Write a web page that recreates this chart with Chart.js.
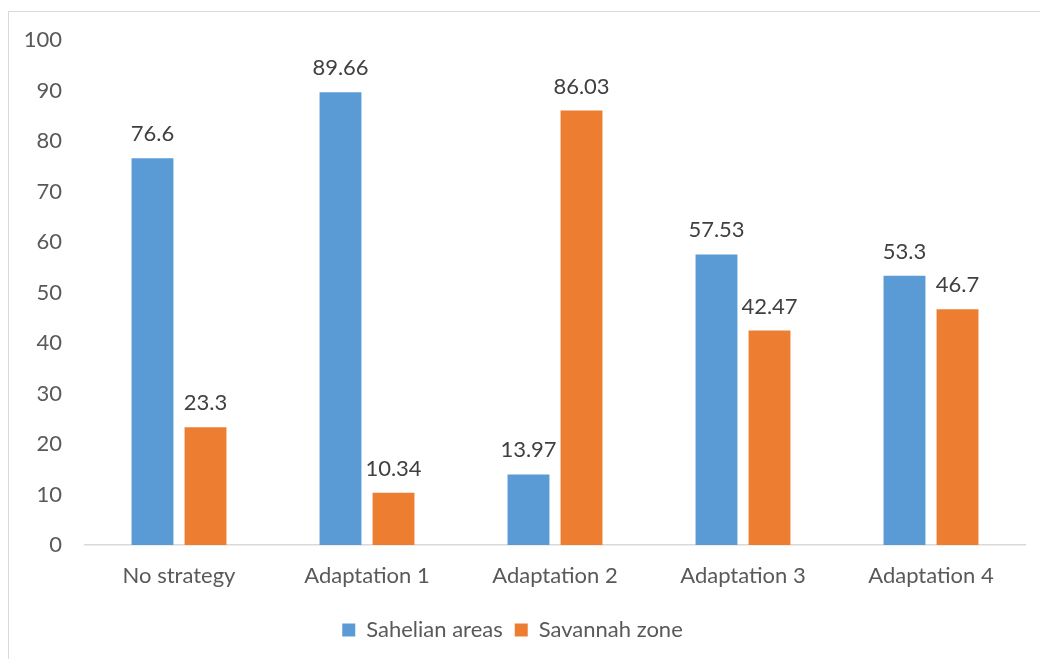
<!DOCTYPE html>
<html><head><meta charset="utf-8">
<script src="https://cdn.jsdelivr.net/npm/chart.js@4.4.1/dist/chart.umd.min.js"></script>
<style>
html,body{margin:0;padding:0;background:#fff;overflow:hidden;}
#frame{position:absolute;left:8px;top:11px;width:1100px;height:700px;border:1px solid #d9d9d9;box-sizing:border-box;}
#wrap{position:absolute;left:0;top:0;width:1040px;height:659px;}
</style></head>
<body>
<div id="frame"></div>
<div id="wrap"><canvas id="c" width="1040" height="659"></canvas></div>
<script>
const categories = ["No strategy", "Adaptation 1", "Adaptation 2", "Adaptation 3", "Adaptation 4"];
const sahelian = [76.6, 89.66, 13.97, 57.53, 53.3];
const savannah = [23.3, 10.34, 86.03, 42.47, 46.7];
const seriesNames = ["Sahelian areas", "Savannah zone"];
const yTicks = [0, 10, 20, 30, 40, 50, 60, 70, 80, 90, 100];

const FONT = "Lato, 'Open Sans', sans-serif";
const labelPlugin = {
  id: 'valueLabels',
  afterDatasetsDraw(chart) {
    const ctx = chart.ctx;
    ctx.save();
    ctx.font = "22px " + FONT;
    ctx.fillStyle = "#404040";
    ctx.textAlign = "center";
    ctx.textBaseline = "alphabetic";
    chart.data.datasets.forEach((ds, i) => {
      chart.getDatasetMeta(i).data.forEach((bar, j) => {
        ctx.fillText(String(ds.data[j]), bar.x, bar.y - 17);
      });
    });
    ctx.restore();
  }
};

new Chart(document.getElementById('c'), {
  type: 'bar',
  data: {
    labels: categories,
    datasets: [
      { label: seriesNames[0], data: sahelian, backgroundColor: '#5B9BD5' },
      { label: seriesNames[1], data: savannah, backgroundColor: '#ED7D31' }
    ]
  },
  options: {
    responsive: false,
    animation: false,
    devicePixelRatio: 1,
    categoryPercentage: 0.564,
    barPercentage: 0.79,
    layout: { padding: { left: 0, right: 15, top: 40, bottom: 8 } },
    plugins: {
      legend: {
        position: 'bottom',
        labels: { boxWidth: 13, boxHeight: 13, padding: 12, color: '#595959', font: { size: 22, family: FONT } }
      },
      tooltip: { enabled: false }
    },
    scales: {
      x: {
        grid: { display: false, drawTicks: false },
        border: { display: true, color: '#d9d9d9', width: 1.5 },
        ticks: { color: '#595959', font: { size: 22, family: FONT }, padding: 18 },
        afterFit(s) { s.height = 62; }
      },
      y: {
        min: 0, max: 100,
        afterBuildTicks(s) { s.ticks = yTicks.map(v => ({ value: v })); },
        grid: { display: false, drawTicks: false },
        border: { display: false },
        ticks: { color: '#595959', font: { size: 22, family: FONT }, padding: 23 },
        afterFit(s) { s.width = 85; }
      }
    }
  },
  plugins: [labelPlugin]
});
</script>
</body></html>
